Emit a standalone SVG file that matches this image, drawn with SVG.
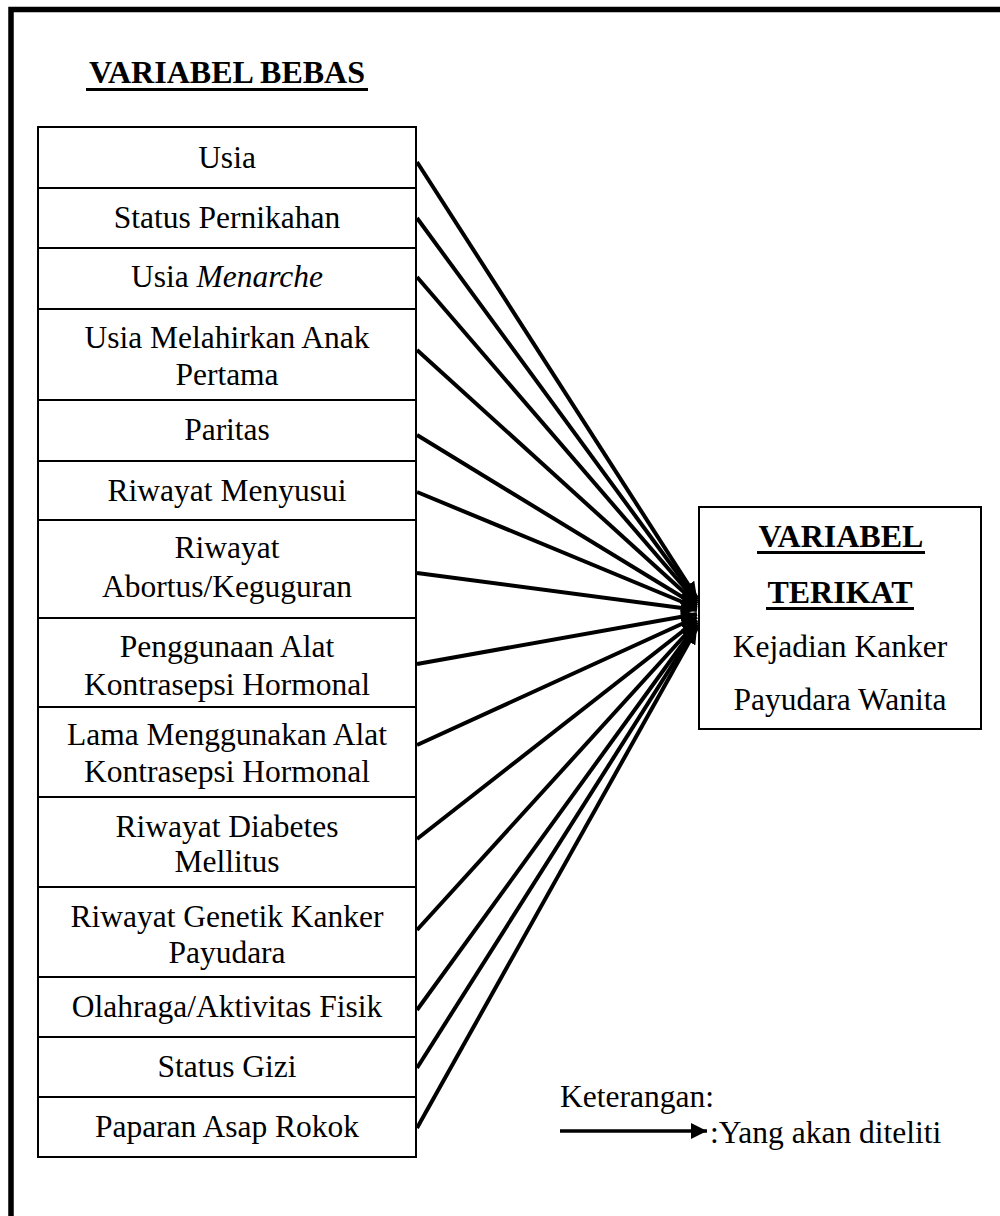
<svg xmlns="http://www.w3.org/2000/svg" width="1000" height="1216" viewBox="0 0 1000 1216">
<style>
.box{fill:#fff;stroke:#000;stroke-width:2}
.t{font-family:"Liberation Serif","Times New Roman",serif;font-size:31.5px;fill:#000;text-anchor:middle}
.b{font-weight:bold;font-size:32px}
.l{text-anchor:start}
.ul{stroke:#000;stroke-width:3}
.c{stroke:#000;stroke-width:4;fill:none;marker-end:url(#ah)}
</style>
<defs>
<marker id="ah" markerUnits="userSpaceOnUse" markerWidth="18" markerHeight="14" refX="16" refY="7" orient="auto">
<path d="M0,0 L16,7 L0,14 Z" fill="#000"/>
</marker>
<marker id="ah2" markerUnits="userSpaceOnUse" markerWidth="18" markerHeight="16" refX="16" refY="8" orient="auto">
<path d="M0,0 L16,8 L0,16 Z" fill="#000"/>
</marker>
</defs>
<rect width="1000" height="1216" fill="#fff"/>
<path d="M11,1216 V9.5 H1000" fill="none" stroke="#000" stroke-width="5.5"/>
<g id="title">
<text class="t b" x="227" y="83">VARIABEL BEBAS</text>
<line class="ul" x1="86" y1="89.5" x2="368" y2="89.5"/>
</g>
<g id="n1"><rect class="box" x="38" y="127" width="378" height="61"/><text class="t" x="227" y="168">Usia</text></g>
<g id="n2"><rect class="box" x="38" y="188" width="378" height="60"/><text class="t" x="227" y="228">Status Pernikahan</text></g>
<g id="n3"><rect class="box" x="38" y="248" width="378" height="61"/><text class="t" x="227" y="287">Usia <tspan font-style="italic">Menarche</tspan></text></g>
<g id="n4"><rect class="box" x="38" y="309" width="378" height="91"/><text class="t" x="227" y="348">Usia Melahirkan Anak</text><text class="t" x="227" y="385">Pertama</text></g>
<g id="n5"><rect class="box" x="38" y="400" width="378" height="61"/><text class="t" x="227" y="440">Paritas</text></g>
<g id="n6"><rect class="box" x="38" y="461" width="378" height="59"/><text class="t" x="227" y="501">Riwayat Menyusui</text></g>
<g id="n7"><rect class="box" x="38" y="520" width="378" height="98"/><text class="t" x="227" y="558">Riwayat</text><text class="t" x="227" y="597">Abortus/Keguguran</text></g>
<g id="n8"><rect class="box" x="38" y="618" width="378" height="89"/><text class="t" x="227" y="657">Penggunaan Alat</text><text class="t" x="227" y="695">Kontrasepsi Hormonal</text></g>
<g id="n9"><rect class="box" x="38" y="707" width="378" height="90"/><text class="t" x="227" y="745">Lama Menggunakan Alat</text><text class="t" x="227" y="782">Kontrasepsi Hormonal</text></g>
<g id="n10"><rect class="box" x="38" y="797" width="378" height="90"/><text class="t" x="227" y="837">Riwayat Diabetes</text><text class="t" x="227" y="872">Mellitus</text></g>
<g id="n11"><rect class="box" x="38" y="887" width="378" height="90"/><text class="t" x="227" y="927">Riwayat Genetik Kanker</text><text class="t" x="227" y="963">Payudara</text></g>
<g id="n12"><rect class="box" x="38" y="977" width="378" height="60"/><text class="t" x="227" y="1017">Olahraga/Aktivitas Fisik</text></g>
<g id="n13"><rect class="box" x="38" y="1037" width="378" height="60"/><text class="t" x="227" y="1077">Status Gizi</text></g>
<g id="n14"><rect class="box" x="38" y="1097" width="378" height="60"/><text class="t" x="227" y="1137">Paparan Asap Rokok</text></g>
<g id="target">
<rect class="box" x="699" y="507" width="282" height="222"/>
<text class="t b" x="841" y="547">VARIABEL</text>
<line class="ul" x1="757" y1="552.5" x2="925" y2="552.5"/>
<text class="t b" x="840" y="603">TERIKAT</text>
<line class="ul" x1="766" y1="608.5" x2="914" y2="608.5"/>
<text class="t" x="840" y="657">Kejadian Kanker</text>
<text class="t" x="840" y="710">Payudara Wanita</text>
</g>
<g id="connectors">
<line class="c" x1="417" y1="162" x2="697" y2="598"/>
<line class="c" x1="417" y1="218" x2="697" y2="600"/>
<line class="c" x1="417" y1="277" x2="697" y2="602"/>
<line class="c" x1="417" y1="350" x2="697" y2="604"/>
<line class="c" x1="417" y1="435" x2="697" y2="606"/>
<line class="c" x1="417" y1="492" x2="697" y2="608"/>
<line class="c" x1="417" y1="573" x2="697" y2="610"/>
<line class="c" x1="417" y1="664" x2="697" y2="614"/>
<line class="c" x1="417" y1="745" x2="697" y2="617"/>
<line class="c" x1="417" y1="839" x2="697" y2="620"/>
<line class="c" x1="417" y1="930" x2="697" y2="622"/>
<line class="c" x1="417" y1="1010" x2="697" y2="624"/>
<line class="c" x1="417" y1="1068" x2="697" y2="626"/>
<line class="c" x1="417" y1="1128" x2="697" y2="628"/>
</g>
<g id="legend">
<text class="t l" x="560" y="1107">Keterangan:</text>
<line x1="560" y1="1131" x2="707" y2="1131" stroke="#000" stroke-width="3.5" marker-end="url(#ah2)"/>
<text class="t l" x="710" y="1143">:Yang akan diteliti</text>
</g>
</svg>
